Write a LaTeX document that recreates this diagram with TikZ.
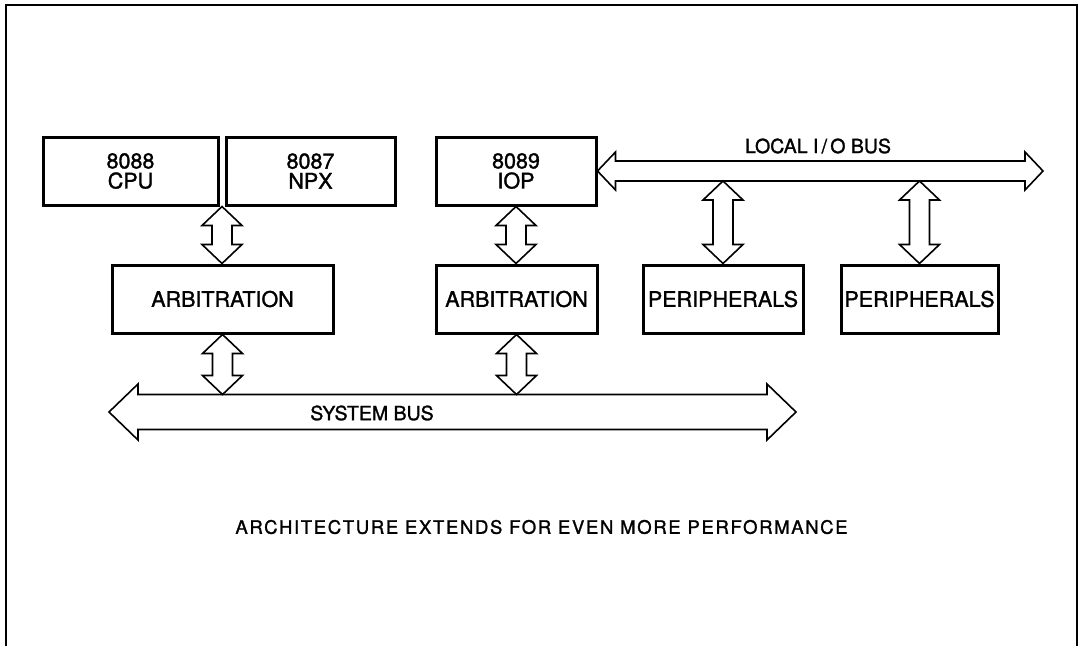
\documentclass[tikz,border=0pt]{standalone}
\usepackage{fontspec}
\setmainfont{TeX Gyre Heros}
\newfontfamily\medium{TeX Gyre Heros}[FakeBold=1.4]
\usetikzlibrary{positioning,calc}
\newcommand{\vlink}[2]{%
  \draw[link] let \p1=#1, \p2=#2 in
    (\x1,\y1) -- (\x1+20pt,\y1-19pt) -- (\x1+10pt,\y1-19pt) -- (\x1+10pt,\y2+19pt)
    -- (\x1+20pt,\y2+19pt) -- (\x1,\y2) -- (\x1-20pt,\y2+19pt) -- (\x1-10pt,\y2+19pt)
    -- (\x1-10pt,\y1-19pt) -- (\x1-20pt,\y1-19pt) -- cycle;}
\newcommand{\hbus}[5]{%
  \draw[link] let \p1=#1, \p2=#2 in
    (\x1,\y1) -- (\x1+#5pt,\y1+#4pt) -- (\x1+#5pt,\y1+#3pt) -- (\x2-#5pt,\y1+#3pt)
    -- (\x2-#5pt,\y1+#4pt) -- (\x2,\y1) -- (\x2-#5pt,\y1-#4pt) -- (\x2-#5pt,\y1-#3pt)
    -- (\x1+#5pt,\y1-#3pt) -- (\x1+#5pt,\y1-#4pt) -- cycle;}

\begin{document}
\begin{tikzpicture}[x=1pt, y=-1pt,
  box/.style={draw, line width=3pt, inner sep=0pt, minimum height=68pt, align=center, font=\medium\fontsize{21.5}{20}\selectfont},
  link/.style={line width=1.6pt, line join=miter},
  buslabel/.style={font=\medium\fontsize{19.5}{20}\selectfont}]
\useasboundingbox (0,0) rectangle (1082,646);
\draw[line width=2.6pt] (6,646) -- (6,5) -- (1077,5) -- (1077,646);

\node[box, minimum width=175pt] (cpu) at (130.5,171) {8088\\CPU};
\node[box, minimum width=169pt] (npx) at (310.5,171) {8087\\NPX};
\node[box, minimum width=160pt] (iop) at (516,171) {8089\\IOP};
\node[box, minimum width=221pt] (arbA) at (222.5,299) {ARBITRATION};
\node[box, minimum width=161pt] (arbB) at (516.5,299) {ARBITRATION};
\node[box, minimum width=160pt] (perA) at (723,299) {PERIPHERALS};
\node[box, minimum width=157pt] (perB) at (919.5,299) {PERIPHERALS};

\coordinate (ioR) at (1043,171);
\coordinate (ioedge) at (0,181);
\coordinate (sysL) at (109,412);
\coordinate (sysR) at (796,412);
\coordinate (sysedge) at (0,394.5);

\hbus{(iop.east)}{(ioR)}{10}{19}{18}
\hbus{(sysL)}{(sysR)}{17.5}{28}{29}

\node[buslabel] (iolbl) at (818,146) {LOCAL I\,/\,O BUS};
\node[buslabel] (syslbl) at (372,413) {SYSTEM BUS};
\node[font=\medium\fontsize{18.5}{18}\selectfont\addfontfeature{LetterSpace=9}] (caption) at (541.5,527)
  {ARCHITECTURE EXTENDS FOR EVEN MORE PERFORMANCE};

\vlink{($(cpu.south east)!.5!(npx.south west)$)}{(arbA.north)}
\vlink{(iop.south)}{(arbB.north)}
\vlink{(arbA.south)}{(arbA.south |- sysedge)}
\vlink{(arbB.south)}{(arbB.south |- sysedge)}
\vlink{(perA.north |- ioedge)}{(perA.north)}
\vlink{(perB.north |- ioedge)}{(perB.north)}
\end{tikzpicture}
\end{document}
